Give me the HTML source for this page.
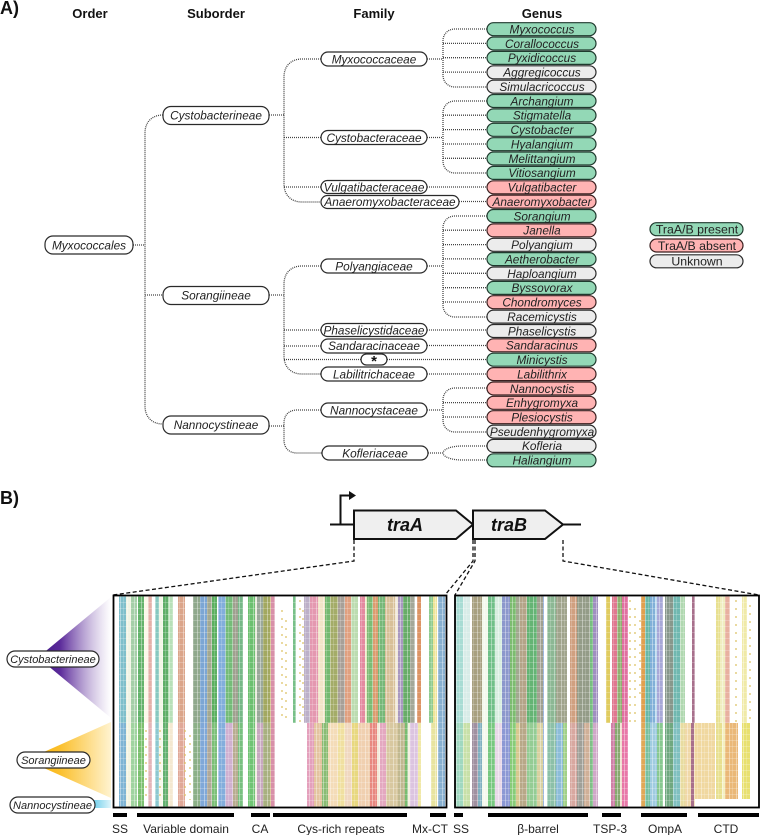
<!DOCTYPE html>
<html><head><meta charset="utf-8"><style>
html,body{margin:0;padding:0;background:#fff}
#p{position:relative;width:760px;height:835px;overflow:hidden;background:#fff}
.s{position:absolute;left:0;width:760px}
svg{position:absolute;left:0;top:0}
text{font-family:"Liberation Sans",sans-serif;font-size:11.8px;fill:#222;text-anchor:middle}
.i text,text.i{font-style:italic}
.h{font-weight:bold;font-size:13px;fill:#111}
.f text{font-size:12px}
.l text{font-size:11px;font-style:italic}
.m text{font-size:12.3px}
.n{fill:#fff;stroke:#2a2a2a;stroke-width:1.2}
.g{fill:#93d8b6;stroke:#1f3a2e;stroke-width:1.2}
.r{fill:#ffb3b3;stroke:#3a1f1f;stroke-width:1.2}
.u{fill:#ececec;stroke:#2a2a2a;stroke-width:1.2}
.d{fill:none;stroke:#444;stroke-width:1.3;stroke-dasharray:1 1}
.k{fill:none;stroke:#111;stroke-width:1.3;stroke-dasharray:4 2.5}
.b{fill:none;stroke:#000;stroke-width:4}
.y{fill:none;stroke:#dcc060;stroke-width:1.2;stroke-dasharray:2 6}
</style></head><body><div id="p">

<div class="s" style="top:596px;height:127px;background:linear-gradient(90deg,#fff 0 119px,#7fbfcb 119px 126px,#f1f4e4 126px 131px,#a5cfa8 131px 137px,#fff 137px 138px,#64b36c 138px 144px,#fbf8ea 144px 148px,#e4b0a8 148px 152px,#fff 152px 155px,#86c8c0 155px 159px,#f2f6e6 159px 163px,#5fae68 163px 168px,#b8e0b8 168px 173px,#fff 173px 178px,#dba58a 178px 185px,#fff 185px 193px,#8fa88c 193px 200px,#7ca6d4 200px 207px,#a3a890 207px 212px,#5cb060 212px 217px,#fff 217px 218px,#82aedc 218px 225px,#74bc78 226px 233px,#a0a090 233px 238px,#76b888 238px 243px,#fff 243px 248px,#6cc070 248px 255px,#e8eadc 255px 257px,#9aa89a 257px 263px,#a2a860 263px 270px,#d4c088 270px 271px,#d890a8 271px 275px,#fff 275px 293px,#78c088 293px 296px,#fff 296px 304px,#bcb0c8 304px 310px,#e498b0 310px 318px,#f2e4c8 318px 325px,#74b870 325px 330px,#a4ac68 330px 338px,#a8a098 338px 345px,#e0a080 345px 351px,#bcdcb0 351px 358px,#fff 358px 360px,#e48aa0 360px 365px,#e8e8c0 365px 367px,#7cbc74 367px 373px,#dc9c70 373px 378px,#76b878 378px 385px,#d8c098 385px 395px,#f0e8d8 395px 398px,#a898c0 398px 403px,#68ac68 403px 410px,#a4a898 410px 415px,#fff 415px 417px,#dc9464 417px 421px,#fff 421px 429px,#90cc90 429px 433px,#eee498 433px 437px,#fff 437px 438px,#88b0d0 438px 445px,#fff 445px 455px,#a8dcd4 455px 463px,#d8ece8 463px 470px,#fff 470px 472px,#a8a080 472px 482px,#f4f8ec 482px 488px,#70c088 488px 495px,#d8eee0 495px 502px,#8c98cc 502px 510px,#7cbc70 510px 516px,#a2a890 516px 520px,#b4a488 520px 527px,#64b474 527px 537px,#a0a090 537px 543px,#88a8d8 543px 544px,#fff 544px 547px,#8cb894 547px 556px,#a0a48c 556px 567px,#fff 567px 570px,#d0a080 570px 577px,#949c88 577px 590px,#78c080 590px 593px,#a090c0 593px 598px,#fff 598px 606px,#e0cc60 606px 610px,#fff 610px 612px,#e07890 612px 617px,#90b070 617px 622px,#e070a0 622px 628px,#fff 628px 641px,#e0a050 641px 645px,#68b8a8 645px 650px,#80b0d8 650px 655px,#c0dcf0 655px 657px,#a8a8d8 657px 663px,#fff 663px 665px,#88988c 665px 673px,#70b8b0 673px 680px,#b0d8b0 680px 685px,#fff 685px 692px,#a8708c 692px 695px,#fff 695px 716px,#e8e090 716px 720px,#f0eec0 720px 725px,#e8b0a0 725px 730px,#fff 730px 742px,#f0eaa8 742px 747px,#fff 747px)"></div>

<div class="s" style="top:723px;height:84px;background:linear-gradient(90deg,#fff 0 119px,#7fb4d4 119px 126px,#f4f4e0 126px 131px,#a0d4a0 131px 137px,#fff 137px 138px,#7cc070 138px 144px,#fff 144px 148px,#e4b4b8 148px 152px,#fff 152px 155px,#8cc8d0 155px 159px,#f8f8ec 159px 163px,#64b070 163px 168px,#f4e8d0 168px 173px,#fff 173px 178px,#e0a898 178px 185px,#fff 185px 193px,#8cb088 193px 200px,#80a8d8 200px 207px,#b0a898 207px 212px,#7cc078 212px 217px,#fff 217px 218px,#84aedc 218px 225px,#d0b0d0 226px 233px,#b8ac90 233px 238px,#78c080 238px 243px,#fff 243px 248px,#70c474 248px 255px,#f0eee0 255px 257px,#c8a8c0 257px 263px,#a8b080 263px 270px,#d4c088 270px 271px,#d890a8 271px 275px,#fff 275px 307px,#e4a0bc 307px 314px,#e4c4a0 314px 322px,#8abc74 322px 328px,#f4dcb8 328px 338px,#f0e0a0 338px 345px,#f0d8c0 345px 352px,#e8d880 352px 358px,#f0d0b0 358px 370px,#e88880 370px 377px,#f4e8d8 377px 380px,#e4a8c0 380px 386px,#d8c8a0 386px 398px,#c0b890 398px 405px,#78bc70 405px 408px,#f4f0e0 408px 410px,#dcc4e0 410px 418px,#f0e8a8 418px 421px,#fff 421px 431px,#e8e4a0 431px 437px,#fff 437px 438px,#88b0d0 438px 445px,#fff 445px 455px,#a0d8c0 455px 463px,#c8e0a8 463px 470px,#fff 470px 472px,#a090a0 472px 478px,#80b0c0 478px 482px,#f4f8ec 482px 488px,#78c880 488px 495px,#e8d8e8 495px 502px,#8c98d4 502px 510px,#88cc78 510px 516px,#d8c890 516px 520px,#b8a888 520px 527px,#94cc94 527px 537px,#d8d0a0 537px 543px,#88a8d8 543px 544px,#fff 544px 547px,#8cc0a8 547px 556px,#8cbcd8 556px 563px,#a0d088 563px 567px,#fff 567px 570px,#d8a8a0 570px 577px,#a0a098 577px 584px,#d0b098 584px 590px,#80c088 590px 593px,#d0a8c8 593px 598px,#fff 598px 611px,#d080a8 611px 615px,#88a870 615px 620px,#f0e0d0 620px 622px,#e878a8 622px 628px,#fff 628px 641px,#e0a858 641px 645px,#78c0a0 645px 650px,#a0cce0 650px 657px,#88c890 657px 663px,#fff 663px 665px,#70a880 665px 673px,#80c0c0 673px 680px,#e8dca0 680px 685px,#f0d8a8 685px 691px,#a8708c 691px 694px,#f0d8a0 694px 715px,#fff 715px 716px,#e8e090 716px 722px,#f4f0c0 722px 725px,#eab878 725px 738px,#fff 738px 742px,#e8e070 742px 750px,#fff 750px)"></div>

<div style="position:absolute;left:695px;top:799px;width:64px;height:8px;background:#fff"></div>
<div style="position:absolute;left:113px;top:596px;width:646px;height:211px;background:repeating-linear-gradient(90deg,rgba(255,255,255,.38) 0 1px,transparent 1px 3px,rgba(255,255,255,.18) 3px 4px,transparent 4px 7px),repeating-linear-gradient(0deg,rgba(255,255,255,.22) 0 1px,transparent 1px 6px)"></div>

<svg width="760" height="835" viewBox="0 0 760 835">
<defs>
<linearGradient id="pu" x1="0" x2="1" y1="0" y2="0"><stop offset="0" stop-color="#3f1a86"/><stop offset=".3" stop-color="#5b2a9a"/><stop offset="1" stop-color="#fff" stop-opacity=".6"/></linearGradient>
<linearGradient id="ye" x1="0" x2="1" y1="0" y2="0"><stop offset="0" stop-color="#f8b000"/><stop offset=".4" stop-color="#fbc02d"/><stop offset="1" stop-color="#fff3d0"/></linearGradient>
<linearGradient id="bl" x1="0" x2="1" y1="0" y2="0"><stop offset="0" stop-color="#5cc8e8"/><stop offset="1" stop-color="#dff5fb"/></linearGradient>
</defs>

<path fill="url(#pu)" d="M38 657.5L111 597V718Z"/>
<path fill="url(#ye)" d="M26 760L111 722V798Z"/>
<path fill="url(#bl)" d="M90 800H111V808H90Z"/>

<path class="y" d="M282 610V722M286 620V722M300 600V722M303 610V722M630 600V722M635 608V722M640 620V700M736 600V722M750 605V722M185 730V800M190 735V800M160 730V800M146 730V800"/>

<text x="0" y="14" style="font-size:18px;font-weight:bold;text-anchor:start;fill:#111">A)</text>
<text x="0" y="504" style="font-size:18px;font-weight:bold;text-anchor:start;fill:#111">B)</text>
<text class="h" x="90" y="18">Order</text>
<text class="h" x="216" y="18">Suborder</text>
<text class="h" x="374" y="18">Family</text>
<text class="h" x="542" y="18">Genus</text>

<path class="d" d="M133 245H145M163 115H163C152 115 145 122 145 133V406C145 417 152 424 163 424M145 295H163"/>
<path class="d" d="M269 115H284M321 59H302C291 59 284 66 284 77V184C284 195 291 202 302 202H321M284 137.500H321M284 187H321"/>
<path class="d" d="M269 295H284M321 266H302C291 266 284 273 284 284V356C284 367 291 374 302 374H321M284 330H321M284 346H321M284 359.500H361"/>
<path class="d" d="M269 426H284M321 410H297C289 410 284 415 284 423V440C284 448 289 453 297 453H322"/>
<path class="d" d="M427 59H443M487 29H455C448 29 443 34 443 41V75C443 82 448 87 455 87H487M443 43.400H487M443 57.700H487M443 72.100H487"/>
<path class="d" d="M427 137.500H443M487 101H455C448 101 443 106 443 113V161C443 168 448 173 455 173H487M443 115.200H487M443 129.600H487M443 144H487M443 158.300H487"/>
<path class="d" d="M427 187H487M459 201.500H487"/>
<path class="d" d="M427 266H443M487 216H455C448 216 443 221 443 228V305C443 312 448 317 455 317H487M443 230.200H487M443 244.600H487M443 258.900H487M443 273.300H487M443 287.700H487M443 302H487"/>
<path class="d" d="M427 330H487M427 345.500H487M387 359.500H487M427 374H487"/>
<path class="d" d="M427 410H443M487 388H455C448 388 443 393 443 400V420C443 427 448 432 455 432H487M443 402.600H487M443 417H487"/>
<path class="d" d="M428 453H443M487 446H462C452 446 443 449 443 453C443 457 452 460 462 460H487"/>

<g class="i">
<rect class="n" x="45" y="236" width="88" height="18" rx="8"/><text x="89" y="249.500">Myxococcales</text>
<rect class="n" x="163" y="106.500" width="106" height="18" rx="8"/><text x="216" y="119.500">Cystobacterineae</text>
<rect class="n" x="163" y="286.500" width="106" height="18" rx="8"/><text x="216" y="299.500">Sorangiineae</text>
<rect class="n" x="163" y="416" width="106" height="18" rx="8"/><text x="216" y="429">Nannocystineae</text>

<rect class="n" x="321" y="52" width="106" height="14" rx="7"/><text x="374" y="63.300">Myxococcaceae</text>
<rect class="n" x="321" y="130.500" width="106" height="14" rx="7"/><text x="374" y="141.800">Cystobacteraceae</text>
<rect class="n" x="321" y="180.500" width="106" height="13" rx="6.500"/><text x="374" y="191.300">Vulgatibacteraceae</text>
<rect class="n" x="321" y="195.500" width="138" height="13" rx="6.500"/><text x="390" y="206">Anaeromyxobacteraceae</text>
<rect class="n" x="321" y="259" width="106" height="14" rx="7"/><text x="374" y="270.300">Polyangiaceae</text>
<rect class="n" x="321" y="323.500" width="106" height="13" rx="6.500"/><text x="374" y="334.300">Phaselicystidaceae</text>
<rect class="n" x="321" y="339" width="106" height="14" rx="7"/><text x="374" y="350">Sandaracinaceae</text>
<rect class="n" x="361" y="354" width="26" height="11" rx="5.500"/>
<rect class="n" x="321" y="367" width="106" height="14" rx="7"/><text x="374" y="378.300">Labilitrichaceae</text>
<rect class="n" x="321" y="403" width="106" height="14" rx="7"/><text x="374" y="414.300">Nannocystaceae</text>
<rect class="n" x="322" y="446" width="106" height="14" rx="7"/><text x="375" y="457.300">Kofleriaceae</text>
</g>
<text x="374" y="366" style="font-size:15px;font-weight:bold;fill:#111">*</text>

<g class="i">
<rect class="g" x="487" y="22.700" width="109" height="13" rx="6.500"/><text x="542" y="33.500">Myxococcus</text>
<rect class="g" x="487" y="37" width="109" height="13" rx="6.500"/><text x="542" y="47.900">Corallococcus</text>
<rect class="g" x="487" y="51.400" width="109" height="13" rx="6.500"/><text x="542" y="62.200">Pyxidicoccus</text>
<rect class="u" x="487" y="65.800" width="109" height="13" rx="6.500"/><text x="542" y="76.600">Aggregicoccus</text>
<rect class="u" x="487" y="80.200" width="109" height="13" rx="6.500"/><text x="542" y="91">Simulacricoccus</text>
<rect class="g" x="487" y="94.500" width="109" height="13" rx="6.500"/><text x="542" y="105.400">Archangium</text>
<rect class="g" x="487" y="108.900" width="109" height="13" rx="6.500"/><text x="542" y="119.700">Stigmatella</text>
<rect class="g" x="487" y="123.300" width="109" height="13" rx="6.500"/><text x="542" y="134.100">Cystobacter</text>
<rect class="g" x="487" y="137.700" width="109" height="13" rx="6.500"/><text x="542" y="148.500">Hyalangium</text>
<rect class="g" x="487" y="152" width="109" height="13" rx="6.500"/><text x="542" y="162.800">Melittangium</text>
<rect class="g" x="487" y="166.400" width="109" height="13" rx="6.500"/><text x="542" y="177.200">Vitiosangium</text>
<rect class="r" x="487" y="180.800" width="109" height="13" rx="6.500"/><text x="542" y="191.600">Vulgatibacter</text>
<rect class="r" x="487" y="195.100" width="109" height="13" rx="6.500"/><text x="542" y="205.900">Anaeromyxobacter</text>
<rect class="g" x="487" y="209.500" width="109" height="13" rx="6.500"/><text x="542" y="220.300">Sorangium</text>
<rect class="r" x="487" y="223.900" width="109" height="13" rx="6.500"/><text x="542" y="234.700">Janella</text>
<rect class="u" x="487" y="238.300" width="109" height="13" rx="6.500"/><text x="542" y="249.100">Polyangium</text>
<rect class="g" x="487" y="252.600" width="109" height="13" rx="6.500"/><text x="542" y="263.400">Aetherobacter</text>
<rect class="u" x="487" y="267" width="109" height="13" rx="6.500"/><text x="542" y="277.800">Haploangium</text>
<rect class="g" x="487" y="281.400" width="109" height="13" rx="6.500"/><text x="542" y="292.200">Byssovorax</text>
<rect class="r" x="487" y="295.700" width="109" height="13" rx="6.500"/><text x="542" y="306.500">Chondromyces</text>
<rect class="u" x="487" y="310.100" width="109" height="13" rx="6.500"/><text x="542" y="320.900">Racemicystis</text>
<rect class="u" x="487" y="324.500" width="109" height="13" rx="6.500"/><text x="542" y="335.300">Phaselicystis</text>
<rect class="r" x="487" y="338.800" width="109" height="13" rx="6.500"/><text x="542" y="349.600">Sandaracinus</text>
<rect class="g" x="487" y="353.200" width="109" height="13" rx="6.500"/><text x="542" y="364">Minicystis</text>
<rect class="r" x="487" y="367.600" width="109" height="13" rx="6.500"/><text x="542" y="378.400">Labilithrix</text>
<rect class="r" x="487" y="382" width="109" height="13" rx="6.500"/><text x="542" y="392.800">Nannocystis</text>
<rect class="r" x="487" y="396.300" width="109" height="13" rx="6.500"/><text x="542" y="407.100">Enhygromyxa</text>
<rect class="r" x="487" y="410.700" width="109" height="13" rx="6.500"/><text x="542" y="421.500">Plesiocystis</text>
<rect class="u" x="487" y="425.100" width="109" height="13" rx="6.500"/><text x="542" y="435.900">Pseudenhygromyxa</text>
<rect class="u" x="487" y="439.400" width="109" height="13" rx="6.500"/><text x="542" y="450.200">Kofleria</text>
<rect class="g" x="487" y="453.800" width="109" height="13" rx="6.500"/><text x="542" y="464.600">Haliangium</text>
</g>

<g class="m">
<rect class="g" x="650" y="222.700" width="93" height="13" rx="6.500"/><text x="697" y="233.500">TraA/B present</text>
<rect class="r" x="650" y="239" width="93" height="13" rx="6.500"/><text x="697" y="249.800">TraA/B absent</text>
<rect class="u" x="650" y="254.800" width="93" height="13" rx="6.500"/><text x="697" y="265.500">Unknown</text>
</g>

<path d="M330 524.500H354M563 524.500H581" stroke="#111" stroke-width="2" fill="none"/>
<path d="M340.500 524V495.500H350" stroke="#111" stroke-width="2" fill="none"/>
<path d="M349 491L356 495.500L349 500Z" fill="#111"/>
<path d="M354 510.500H456L473 524.500L456 539H354Z" fill="#efefef" stroke="#111" stroke-width="2"/>
<path d="M473 510.500H545L563 524.500L545 539H473Z" fill="#efefef" stroke="#111" stroke-width="2"/>
<text x="405" y="531" style="font-size:18px;font-weight:bold;font-style:italic;fill:#111">traA</text>
<text x="509" y="531" style="font-size:18px;font-weight:bold;font-style:italic;fill:#111">traB</text>

<path class="k" d="M354 540V561L113 595"/>
<path class="k" d="M473 540V561L445 595"/>
<path class="k" d="M475 540V561L455 595"/>
<path class="k" d="M563 540V561L759 595"/>

<rect x="113.500" y="595.500" width="333" height="212" fill="none" stroke="#000" stroke-width="1.800"/>
<rect x="455" y="595.500" width="304" height="212" fill="none" stroke="#000" stroke-width="1.800"/>

<path class="b" d="M113 815H127M137 815H234M251 815H270M273 815H407M430 815H446M454 815H463M488 815H588M602 815H621M641 815H687M698 815H759"/>
<g class="f">
<text x="120" y="833">SS</text>
<text x="186" y="833">Variable domain</text>
<text x="260" y="833">CA</text>
<text x="341" y="833">Cys-rich repeats</text>
<text x="430" y="833">Mx-CT</text>
<text x="461" y="833">SS</text>
<text x="538" y="833">β-barrel</text>
<text x="610" y="833">TSP-3</text>
<text x="665" y="833">OmpA</text>
<text x="726" y="833">CTD</text>
</g>

<g class="l">
<rect class="n" x="7" y="651" width="92" height="16" rx="8"/><text x="53" y="663">Cystobacterineae</text>
<rect class="n" x="17" y="752" width="73" height="16" rx="8"/><text x="53.500" y="764">Sorangiineae</text>
<rect class="n" x="10" y="797" width="85" height="16" rx="8"/><text x="52.500" y="809">Nannocystineae</text>
</g>
</svg>
</div></body></html>
